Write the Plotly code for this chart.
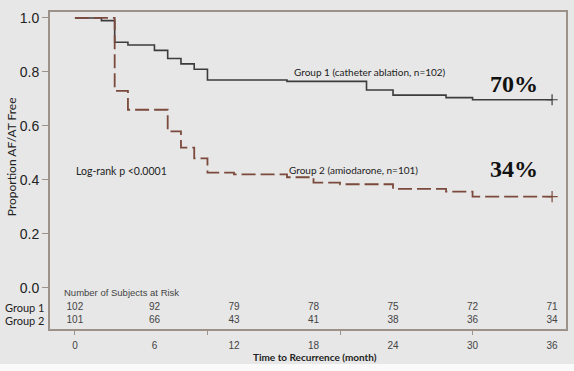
import plotly.graph_objects as go

# Kaplan-Meier step data
months_g1 = [0, 2, 3, 4, 6, 7, 8, 9, 10, 16, 22, 24, 28, 30, 36]
surv_g1 = [1.0, 0.99, 0.91, 0.90, 0.88, 0.85, 0.83, 0.81, 0.77, 0.765, 0.733, 0.714, 0.705, 0.697, 0.697]

months_g2 = [0, 3, 4, 7, 8, 9, 10, 12, 16, 18, 20, 24, 28, 30, 36]
surv_g2 = [1.0, 0.73, 0.66, 0.58, 0.52, 0.48, 0.427, 0.421, 0.41, 0.39, 0.384, 0.367, 0.357, 0.338, 0.338]

# Risk table
risk_months = [0, 6, 12, 18, 24, 30, 36]
risk_g1 = [102, 92, 79, 78, 75, 72, 71]
risk_g2 = [101, 66, 43, 41, 38, 36, 34]

y_ticks = [0.0, 0.2, 0.4, 0.6, 0.8, 1.0]

BG = "#e7e7e7"
FRAME = "#9c928a"
SOLID = "#3c3c3c"
DASH = "#7b4a3c"
TXT = "#222222"
NUMC = "#444444"
CAL = "Lato, 'Open Sans', sans-serif"
ARI = "'Liberation Sans', Arial, sans-serif"

fig = go.Figure()

fig.add_trace(go.Scatter(
    x=months_g1, y=surv_g1, mode="lines", line_shape="hv",
    line=dict(color=SOLID, width=1.6), showlegend=False, hoverinfo="skip"))
fig.add_trace(go.Scatter(
    x=months_g2, y=surv_g2, mode="lines", line_shape="hv",
    line=dict(color=DASH, width=1.8, dash="14px,5px"), showlegend=False, hoverinfo="skip"))
# censor marks at end
fig.add_trace(go.Scatter(
    x=[months_g1[-1]], y=[surv_g1[-1]], mode="markers",
    marker=dict(symbol="cross-thin", size=8, line=dict(color=SOLID, width=1.2)),
    showlegend=False, hoverinfo="skip"))
fig.add_trace(go.Scatter(
    x=[months_g2[-1]], y=[surv_g2[-1]], mode="markers",
    marker=dict(symbol="cross-thin", size=8, line=dict(color=DASH, width=1.2)),
    showlegend=False, hoverinfo="skip"))

# risk table numbers
fig.add_trace(go.Scatter(
    x=risk_months, y=[-0.073] * len(risk_months), mode="text",
    text=[str(v) for v in risk_g1], textfont=dict(family=ARI, size=10, color=NUMC),
    showlegend=False, hoverinfo="skip"))
fig.add_trace(go.Scatter(
    x=risk_months, y=[-0.122] * len(risk_months), mode="text",
    text=[str(v) for v in risk_g2], textfont=dict(family=ARI, size=10, color=NUMC),
    showlegend=False, hoverinfo="skip"))

annotations = [
    dict(x=16.4, y=0.80, xref="x", yref="y", text="Group 1 (catheter ablation, n=102)",
         xanchor="left", yanchor="middle", showarrow=False,
         font=dict(family=CAL, size=10, color=TXT)),
    dict(x=16.0, y=0.437, xref="x", yref="y", text="Group 2 (amiodarone, n=101)",
         xanchor="left", yanchor="middle", showarrow=False,
         font=dict(family=CAL, size=10, color=TXT)),
    dict(x=-0.1, y=0.433, xref="x", yref="y", text="Log-rank p <0.0001",
         xanchor="left", yanchor="middle", showarrow=False,
         font=dict(family=CAL, size=10.5, color=TXT)),
    dict(x=33.1, y=0.757, xref="x", yref="y", text="<b>70%</b>",
         xanchor="center", yanchor="middle", showarrow=False,
         font=dict(family="'Liberation Serif', 'Times New Roman', serif", size=24, color="#111111")),
    dict(x=33.1, y=0.442, xref="x", yref="y", text="<b>34%</b>",
         xanchor="center", yanchor="middle", showarrow=False,
         font=dict(family="'Liberation Serif', 'Times New Roman', serif", size=24, color="#111111")),
    dict(x=-0.95, y=-0.016, xref="x", yref="y", text="Number of Subjects at Risk",
         xanchor="left", yanchor="middle", showarrow=False,
         font=dict(family=ARI, size=9.5, color=NUMC)),
    dict(x=-0.008, y=-0.073, xref="paper", yref="y", text="Group 1",
         xanchor="right", yanchor="middle", showarrow=False,
         font=dict(family=CAL, size=11, color=TXT)),
    dict(x=-0.008, y=-0.122, xref="paper", yref="y", text="Group 2",
         xanchor="right", yanchor="middle", showarrow=False,
         font=dict(family=CAL, size=11, color=TXT)),
    dict(x=0.5135, y=-0.088, xref="paper", yref="paper", text="<b>Time to Recurrence (month)</b>",
         xanchor="center", yanchor="middle", showarrow=False,
         font=dict(family=CAL, size=10, color=TXT)),
    dict(x=-0.073, y=0.543, xref="paper", yref="paper", text="Proportion AF/AT Free",
         textangle=-90, xanchor="center", yanchor="middle", showarrow=False,
         font=dict(family=CAL, size=12, color=TXT)),
]

fig.update_layout(
    width=574, height=371,
    margin=dict(l=50, r=6, t=12, b=42),
    paper_bgcolor=BG, plot_bgcolor=BG,
    annotations=annotations,
    shapes=[dict(type="rect", xref="paper", yref="paper", x0=-0.2, x1=1.1,
                 y0=-0.2, y1=-0.1104, fillcolor="#fafafa", line=dict(width=0), layer="below")],
)

fig.update_xaxes(
    range=[-1.88, 37.05], showgrid=False, zeroline=False,
    showline=True, mirror=True, linecolor=FRAME, linewidth=2,
    tickmode="array", tickvals=risk_months, ticktext=[str(m) for m in risk_months],
    ticks="", tickfont=dict(family=ARI, size=10, color=NUMC), ticklabelstandoff=6,
    minor=dict(tickmode="array", tickvals=[0, 10, 20, 30], ticks="outside", ticklen=4,
               tickcolor=FRAME, tickwidth=1, showgrid=False),
)
fig.update_yaxes(
    range=[-0.152, 1.022], showgrid=False, zeroline=False,
    showline=True, mirror=True, linecolor=FRAME, linewidth=2,
    tickmode="array", tickvals=y_ticks, ticktext=[f"{v:.1f}" for v in y_ticks],
    ticks="outside", ticklen=6, tickcolor=FRAME, tickwidth=1,
    tickfont=dict(family=ARI, size=14, color=TXT),
)

fig.write_html("out.html", config={"displayModeBar": False},
               post_script="document.body.style.margin='0';document.body.style.overflow='hidden';")
